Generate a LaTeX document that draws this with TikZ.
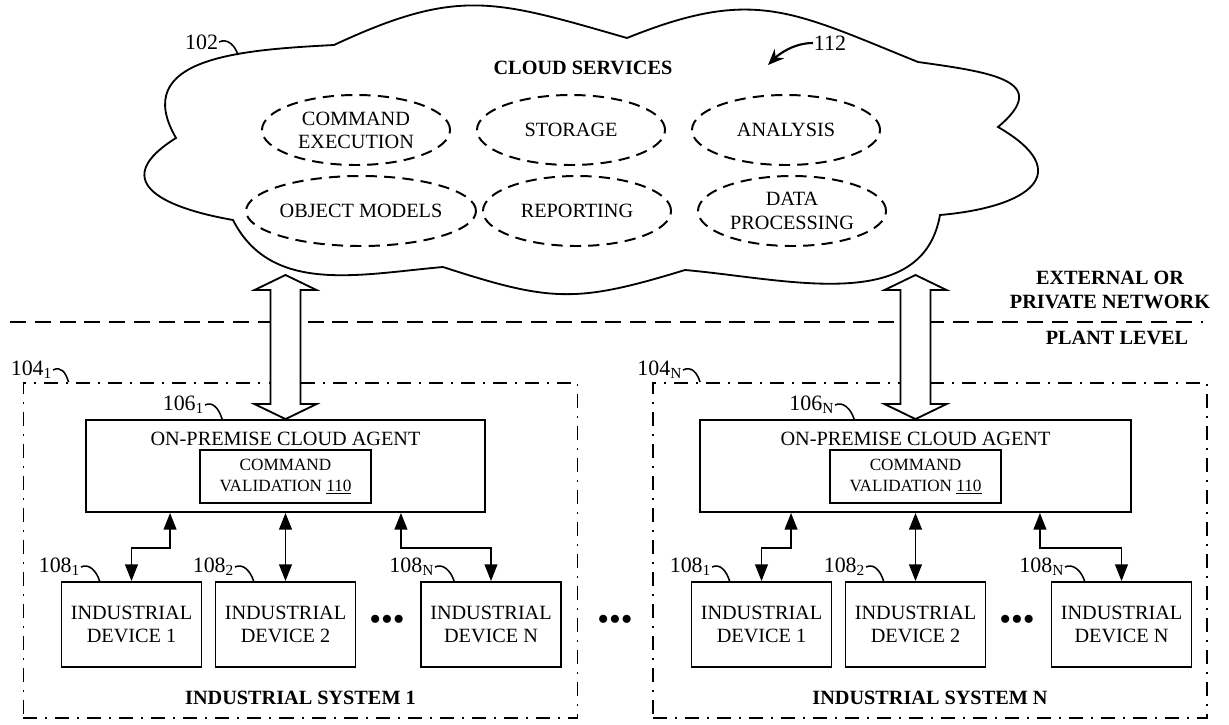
\documentclass[tikz,border=0pt]{standalone}
\usepackage{fontspec}
\setmainfont{Liberation Serif}
\usetikzlibrary{positioning,calc,arrows.meta,shapes.geometric}

\begin{document}
\begin{tikzpicture}
          [x=0.025cm, y=0.025cm, line width=1.3pt,
           font=\fontsize{14.4}{16.5}\selectfont,
           box/.style={draw, rectangle, inner sep=0pt, align=center},
           devbox/.style={box, minimum width=3.5cm, minimum height=2.125cm},
           agentbox/.style={box, minimum height=2.3cm},
           cvbox/.style={box, minimum width=4.275cm, minimum height=1.325cm,
             font=\fontsize{12.2}{14.7}\selectfont},
           sysbox/.style={draw, inner sep=0pt, minimum width=13.85cm, minimum height=8.375cm,
             dash pattern=on 3.5mm off 2mm on 0.5mm off 2mm},
           service/.style={draw, ellipse, dash pattern=on 2.8mm off 1.8mm, line width=1.4pt,
             minimum width=4.7cm, minimum height=1.75cm, inner sep=0pt, align=center},
           title/.style={font=\bfseries\fontsize{14.4}{17}\selectfont, align=center, inner sep=0pt},
           ref/.style={font=\fontsize{15.6}{16}\selectfont, inner sep=0pt, anchor=east},
           refline/.style={line width=1.1pt},
           link/.style={{Triangle[length=4.2mm,width=3.2mm]}-{Triangle[length=4.2mm,width=3.2mm]}},
           pipe/.style={line width=1.3pt, fill=white},
           dots/.style={font=\fontsize{24}{24}\selectfont, inner sep=0pt}]
          \useasboundingbox (0,0) rectangle (1229,-724);

          \draw (176,-138) to[out=120,in=183,looseness=1.3] (334,-45)
            to[out=25,in=164,looseness=1.2] (627,-38)
            to[out=22,in=158,looseness=1.2] (918,-62)
            to[out=-8,in=40,looseness=1.8] (998,-127)
            to[out=-30,in=5,looseness=2.2] (940,-215)
            to[out=260,in=-5] (685,-270)
            to[out=197,in=-18,looseness=1.2] (443,-267)
            to[out=185,in=-63] (233,-220)
            to[out=170,in=212,looseness=2] (176,-138) -- cycle;

          \node (cloud) [title] at (583,-68) {CLOUD SERVICES};
          \node (cmdexec) [service] at (356,-130) {COMMAND\\EXECUTION};
          \node (storage) [service] at (571,-130) {STORAGE};
          \node (analysis) [service] at (786,-130) {ANALYSIS};
          \node (objmodels) [service] at (361,-211) {OBJECT MODELS};
          \node (reporting) [service] at (577,-211) {REPORTING};
          \node (dataproc) [service] at (792,-211) {DATA\\PROCESSING};

          \node (l102) [ref] at (219,-42) {102};
          \coordinate (c102) at (238,-55);
          \draw[refline] (l102.east) .. controls +(8,4) and +(-3,10) .. (c102);
          \node (l112) [ref, anchor=west] at (813,-43) {112};
          \coordinate (c112) at (768,-65);
          \draw[line width=1.5pt, -{Stealth[length=4mm,width=3.3mm]}] (l112.west) .. controls +(-20,0) and +(10,10) .. (c112);

          \node (extnet) [title] at (1110,-290) {EXTERNAL OR\\PRIVATE NETWORK};
          \node (plant) [title] at (1117,-338) {PLANT LEVEL};
          \draw[dash pattern=on 4mm off 2.2mm] (10,-322) -- (1203,-322);

          \node (sys1) [sysbox] at (300.5,-550.5) {};
          \node (sys1name) [title, above = 0.325cm of sys1.south] {INDUSTRIAL SYSTEM 1};
          \node (agent1) [agentbox, minimum width=9.975cm] at (285.5,-466) {};
          \node (agent1name) [inner sep=0pt, below = 0.29cm of agent1.north] {ON-PREMISE CLOUD AGENT};
          \node (cv1) [cvbox] at (285.5,-476.5) {COMMAND\\VALIDATION \underline{110}};
          \node (d11) [devbox] at (131.5,-624.5) {INDUSTRIAL\\DEVICE 1};
          \node (d12) [devbox] at (285.5,-624.5) {INDUSTRIAL\\DEVICE 2};
          \node (d1N) [devbox] at (491,-624.5) {INDUSTRIAL\\DEVICE N};
          \node (dots1) [dots] at (387,-623) {•••};

          \node (sysN) [sysbox] at (930,-550.5) {};
          \node (sysNname) [title, above = 0.325cm of sysN.south] {INDUSTRIAL SYSTEM N};
          \node (agentN) [agentbox, minimum width=10.775cm] at (915.5,-466) {};
          \node (agentNname) [inner sep=0pt, below = 0.29cm of agentN.north] {ON-PREMISE CLOUD AGENT};
          \node (cvN) [cvbox] at (915.5,-476.5) {COMMAND\\VALIDATION \underline{110}};
          \node (dN1) [devbox] at (761.5,-624.5) {INDUSTRIAL\\DEVICE 1};
          \node (dN2) [devbox] at (915.5,-624.5) {INDUSTRIAL\\DEVICE 2};
          \node (dNN) [devbox] at (1121.5,-624.5) {INDUSTRIAL\\DEVICE N};
          \node (dots3) [dots] at (1017,-623) {•••};

          \node (dots2) [dots] at (615,-623) {•••};

          \coordinate (cs1) at (285.5,-275);
          \coordinate (csN) at (915.5,-275);
          \draw[pipe] (cs1) -- ++(31,-15) -- ++(-16,0) -- ($(agent1.north)+(15,15)$) -- ++(16,0)
            -- (agent1.north) -- ++(-31,15) -- ++(16,0) -- ($(cs1)+(-15,-15)$) -- ++(-16,0) -- cycle;
          \draw[pipe] (csN) -- ++(31,-15) -- ++(-16,0) -- ($(agentN.north)+(15,15)$) -- ++(16,0)
            -- (agentN.north) -- ++(-31,15) -- ++(16,0) -- ($(csN)+(-15,-15)$) -- ++(-16,0) -- cycle;

          \draw[link] ([xshift=2.125cm]agent1.south west) -- ++(0,-35) -| (d11.north);
          \draw[link] (d12.north |- agent1.south) -- (d12.north);
          \draw[link] ([xshift=-2.125cm]agent1.south east) -- ++(0,-35) -| (d1N.north);
          \draw[link] ([xshift=2.3cm]agentN.south west) -- ++(0,-35) -| (dN1.north);
          \draw[link] (dN2.north |- agentN.south) -- (dN2.north);
          \draw[link] ([xshift=-2.3cm]agentN.south east) -- ++(0,-35) -| (dNN.north);

          \node (l104a) [ref] at (53,-370) {104\textsubscript{1}};
          \draw[refline] (l104a.east) .. controls +(8,4) and +(-3,10) .. ([xshift=1.15cm]sys1.north west);
          \node (l106a) [ref] at (205,-405) {106\textsubscript{1}};
          \draw[refline] (l106a.east) .. controls +(8,4) and +(-3,10) .. ([xshift=3.425cm]agent1.north west);
          \node (l108a) [ref] at (81,-567) {108\textsubscript{1}};
          \draw[refline] (l108a.east) .. controls +(8,4) and +(-3,10) .. ([xshift=0.975cm]d11.north west);
          \node (l108b) [ref] at (235,-567) {108\textsubscript{2}};
          \draw[refline] (l108b.east) .. controls +(8,4) and +(-3,10) .. ([xshift=0.975cm]d12.north west);
          \node (l108c) [ref] at (435,-567) {108\textsubscript{N}};
          \draw[refline] (l108c.east) .. controls +(8,4) and +(-3,10) .. ([xshift=0.85cm]d1N.north west);

          \node (l104b) [ref] at (683,-370) {104\textsubscript{N}};
          \draw[refline] (l104b.east) .. controls +(8,4) and +(-3,10) .. ([xshift=1.2cm]sysN.north west);
          \node (l106b) [ref] at (835,-405) {106\textsubscript{N}};
          \draw[refline] (l106b.east) .. controls +(8,4) and +(-3,10) .. ([xshift=3.875cm]agentN.north west);
          \node (l108d) [ref] at (712,-567) {108\textsubscript{1}};
          \draw[refline] (l108d.east) .. controls +(8,4) and +(-3,10) .. ([xshift=0.975cm]dN1.north west);
          \node (l108e) [ref] at (866,-567) {108\textsubscript{2}};
          \draw[refline] (l108e.east) .. controls +(8,4) and +(-3,10) .. ([xshift=0.975cm]dN2.north west);
          \node (l108f) [ref] at (1065,-567) {108\textsubscript{N}};
          \draw[refline] (l108f.east) .. controls +(8,4) and +(-3,10) .. ([xshift=0.85cm]dNN.north west);

        \end{tikzpicture}
\end{document}
